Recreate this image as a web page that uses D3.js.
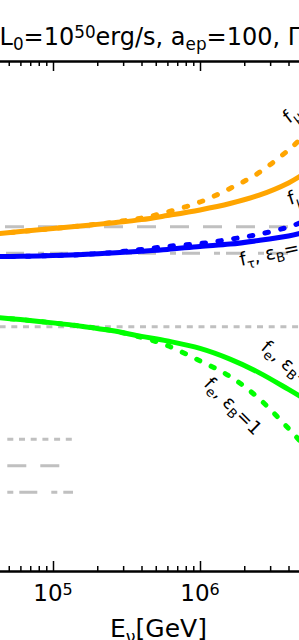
<!DOCTYPE html>
<html><head><meta charset="utf-8">
<script src="https://cdn.jsdelivr.net/npm/d3@7"></script>
<style>
html,body{margin:0;padding:0;background:#fff;overflow:hidden}
svg{display:block;font-family:"DejaVu Sans",sans-serif}
</style>
</head><body>
<svg id="chart" width="299" height="640"></svg>
<script>
// ---- data ----
const energies   = [4e4, 6e4, 1e5, 1.6e5, 2.5e5, 4e5, 6e5, 1e6, 1.6e6, 2.5e6, 4e6, 5e6];
const fMuLow     = [0.3522,0.3531,0.3543,0.3554,0.3565,0.3578,0.3594,0.3616,0.3641,0.3673,0.3722,0.3755];
const fMuHigh    = [0.3522,0.3531,0.3543,0.3554,0.3567,0.3584,0.3608,0.3647,0.3700,0.3761,0.3851,0.3902];
const fTauLow    = [0.3433,0.3434,0.3437,0.3441,0.3447,0.3454,0.3461,0.3473,0.3482,0.3496,0.3514,0.3527];
const fTauHigh   = [0.3433,0.3434,0.3437,0.3441,0.3449,0.3461,0.3473,0.3484,0.3501,0.3520,0.3549,0.3569];
const fELow      = [0.3195,0.3186,0.3173,0.3159,0.3143,0.3120,0.3102,0.3073,0.3031,0.2979,0.2912,0.2879];
const fEHigh     = [0.3195,0.3186,0.3173,0.3159,0.3143,0.3116,0.3084,0.3024,0.2963,0.2878,0.2759,0.2698];
const refNames   = ["f_e standard", "f_mu standard", "f_tau standard"];
const refValues  = [0.3158, 0.3550, 0.3446];
const refStyles  = ["dotted", "dashed", "dashdot"];
const xDomain    = [1e4, 1e7];
const yDomain    = [0.22, 0.42];
const majorTickExps = [4, 5, 6, 7];

// ---- layout ----
const W = 299;
const svg = d3.select("#chart");
const plotLeft = -94, plotRight = 347, plotTop = 61, plotBottom = 571;
const x = d3.scaleLog().domain(xDomain).range([plotLeft, plotRight]);
const y = d3.scaleLinear().domain(yDomain).range([plotBottom, plotTop]);

const dashes = {
  dotted: "6,5.7",
  dashed: "19,14",
  dashdot: "6,6,18,14"
};
const gray = "#c0c0c0";

// reference horizontal lines
const line = d3.line().x(d => x(d[0])).y(d => y(d[1]));
refValues.forEach((v, i) => {
  svg.append("path")
    .attr("d", line([[xDomain[0], v], [xDomain[1], v]]))
    .attr("fill", "none").attr("stroke", gray).attr("stroke-width", 3)
    .attr("stroke-dasharray", dashes[refStyles[i]]);
});

// curves
const curve = d3.line().x(d => x(d[0])).y(d => y(d[1])).curve(d3.curveCatmullRom.alpha(0.5));
const series = [
  {vals: fMuLow,  color: "#ffa500", dotted: false},
  {vals: fMuHigh, color: "#ffa500", dotted: true},
  {vals: fTauLow, color: "#0000ff", dotted: false},
  {vals: fTauHigh,color: "#0000ff", dotted: true},
  {vals: fELow,   color: "#00ff00", dotted: false},
  {vals: fEHigh,  color: "#00ff00", dotted: true}
];
series.forEach(s => {
  const p = svg.append("path")
    .attr("d", curve(energies.map((e, i) => [e, s.vals[i]])))
    .attr("fill", "none").attr("stroke", s.color).attr("stroke-width", 5);
  if (s.dotted) p.attr("stroke-dasharray", "3.5,12.5").attr("stroke-linecap", "round");
});

// legend handles (labels sit outside the visible area)
refStyles.forEach((st, i) => {
  svg.append("line")
    .attr("x1", 7.3).attr("x2", 73).attr("y1", 439.3 + i * 26.5).attr("y2", 439.3 + i * 26.5)
    .attr("stroke", gray).attr("stroke-width", 3)
    .attr("stroke-dasharray", dashes[st]);
});

// axes spines + ticks
const minorTicks = [];
for (let p = 4; p < 7; p++) for (let m = 2; m <= 9; m++) minorTicks.push(m * Math.pow(10, p));
const majorTicks = majorTickExps.map(p => Math.pow(10, p));

function drawAxis(gen, ypos) {
  const gMaj = svg.append("g").attr("transform", `translate(0,${ypos})`)
    .call(gen(x).tickValues(majorTicks).tickSizeInner(10).tickSizeOuter(0));
  const gMin = svg.append("g").attr("transform", `translate(0,${ypos})`)
    .call(gen(x).tickValues(minorTicks).tickSizeInner(5).tickSizeOuter(0));
  [gMaj, gMin].forEach(g => {
    g.selectAll(".tick text").remove();
    g.selectAll(".tick line").attr("stroke", "#000").attr("stroke-width", 1.5);
    g.select(".domain").attr("stroke", "#000").attr("stroke-width", 2);
  });
}
drawAxis(d3.axisBottom, plotTop);   // top spine, ticks inward
drawAxis(d3.axisTop, plotBottom);   // bottom spine, ticks inward

// tick labels 10^n (only those inside the visible window)
majorTickExps.filter(p => {
  const px = x(Math.pow(10, p));
  return px > 20 && px < W - 20;
}).forEach(p => {
  const t = svg.append("text").attr("x", x(Math.pow(10, p))).attr("y", 601)
    .attr("text-anchor", "middle").attr("font-size", 23).attr("fill", "#000");
  t.append("tspan").text("10");
  t.append("tspan").attr("font-size", 16).attr("dy", -6).text(String(p));
});

// rich text helper: parts = [[text, "n"|"sub"|"sup"], ...]
function rich(sel, parts, size) {
  let off = 0;
  parts.forEach(([txt, kind]) => {
    const target = kind === "sub" ? size * 0.22 : kind === "sup" ? -size * 0.3 : 0;
    const ts = sel.append("tspan").text(txt).attr("dy", target - off);
    if (kind !== "n") ts.attr("font-size", size * 0.7);
    off = target;
  });
}

// title
const title = svg.append("text").attr("x", -0.5).attr("y", 45).attr("font-size", 24).attr("fill", "#000");
rich(title, [["L","n"],["0","sub"],["=10","n"],["50","sup"],["erg/s, a","n"],["ep","sub"],["=100, Γ","n"]], 24);

// x label
const xl = svg.append("text").attr("x", 110).attr("y", 637).attr("font-size", 25).attr("fill", "#000");
rich(xl, [["E","n"],["ν","sub"],["[GeV]","n"]], 25);

// curve labels
const labels = [
  {x: 289, y: 124, rot: -38, parts: [["f","n"],["μ","sub"],[", ε","n"],["B","sub"],["=1","n"]]},
  {x: 290, y: 205, rot: -18, parts: [["f","n"],["μ","sub"],[", ε","n"],["B","sub"],["=0.1","n"]]},
  {x: 241, y: 266, rot: -12, parts: [["f","n"],["τ","sub"],[", ε","n"],["B","sub"],["=0.1","n"]]},
  {x: 260, y: 349, rot: 40,  parts: [["f","n"],["e","sub"],[", ε","n"],["B","sub"],["=0.1","n"]]},
  {x: 203, y: 385, rot: 45,  parts: [["f","n"],["e","sub"],[", ε","n"],["B","sub"],["=1","n"]]}
];
labels.forEach(l => {
  const t = svg.append("text").attr("transform", `translate(${l.x},${l.y}) rotate(${l.rot})`)
    .attr("font-size", 18.5).attr("fill", "#000");
  rich(t, l.parts, 18.5);
});
</script>
</body></html>
